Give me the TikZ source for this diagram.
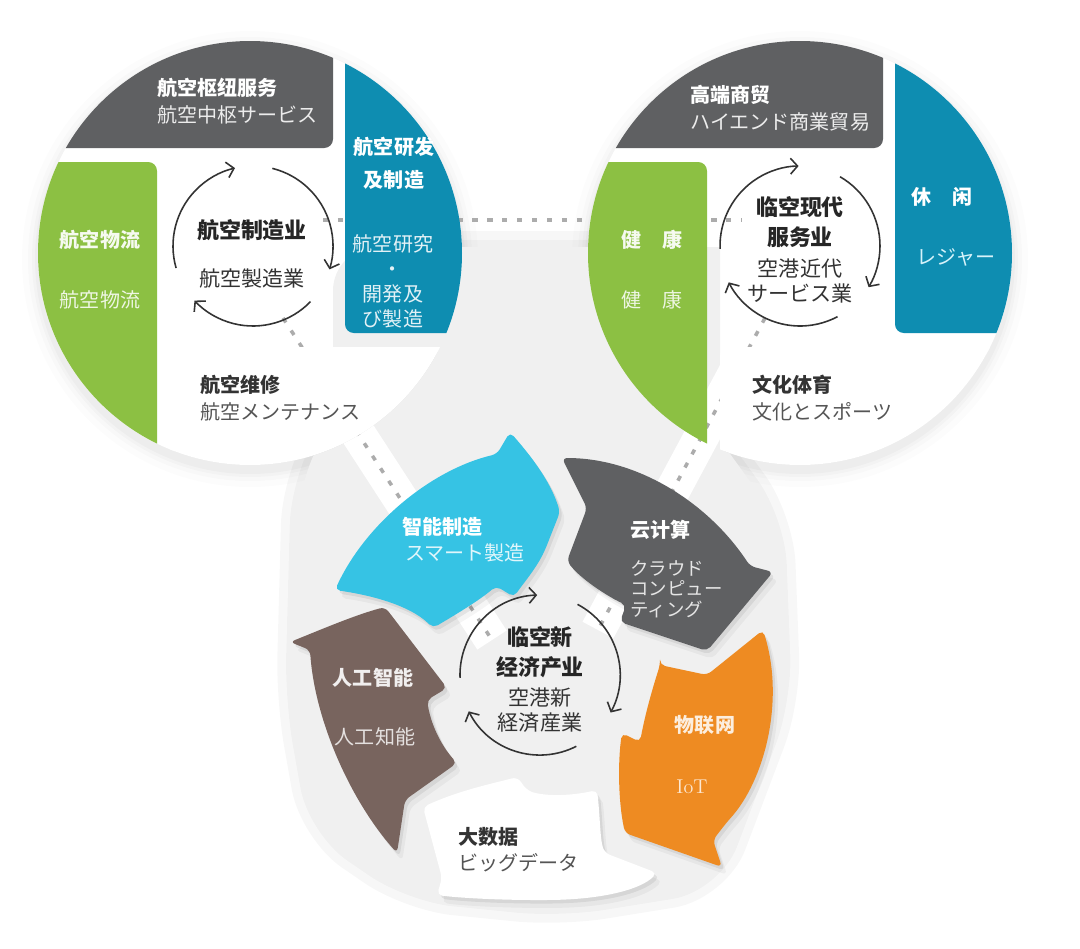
\documentclass[tikz,border=0pt]{standalone}
\usepackage{fontspec}
\usepackage{xcolor}
\usepackage{tikz}
\newfontfamily\zhfont{Noto Sans CJK SC}
\newfontfamily\jafont{Noto Sans CJK JP}
\usetikzlibrary{arrows.meta, positioning}

\definecolor{hubgrey}{HTML}{5F6062}
\definecolor{rdblue}{HTML}{0E8DB1}
\definecolor{leafgreen}{HTML}{8CC043}
\definecolor{skycyan}{HTML}{36C3E4}
\definecolor{iotorange}{HTML}{EE8B22}
\definecolor{aibrown}{HTML}{78645E}
\definecolor{haze}{HTML}{F0F0F0}
\definecolor{darktext}{HTML}{333333}
\definecolor{softtext}{HTML}{555555}

\begin{document}
\begin{tikzpicture}[x=0.02cm, y=-0.02cm]
\tikzstyle{segtitle} = [font=\zhfont\bfseries\fontsize{11.4}{14}\selectfont, inner sep=0pt]
\tikzstyle{segsub} = [font=\jafont\fontsize{11.4}{14.2}\selectfont, inner sep=0pt, align=center]
\tikzstyle{hubtext} = [font=\zhfont\bfseries\fontsize{12.5}{17}\selectfont, text=black!85, inner sep=0pt, align=center]
\tikzstyle{hubsub} = [font=\jafont\fontsize{12}{14.2}\selectfont, text=black!80, inner sep=0pt, align=center]
\tikzstyle{turn} = [draw=black!80, line width=0.9pt, -{Straight Barb[length=4pt,width=9pt]}]
\tikzstyle{dots} = [draw=gray!65, line width=2pt, dash pattern=on 3pt off 5.5pt]
\tikzstyle{strip} = [draw=white, line width=0.7cm]
\tikzstyle{lift} = [preaction={fill=black, opacity=.07, transform canvas={xshift=1.5pt, yshift=-2pt}}, preaction={fill=black, opacity=.04, transform canvas={xshift=3pt, yshift=-4.5pt}}]

\useasboundingbox (0,0) rectangle (1080,948);

% grey haze behind the middle, soft rim first
\tikzset{hazepath/.style={insert path={(333,247) -- (720,247) -- (720,440) [rounded corners=25pt] -- (778,520) -- (785,700) -- (715,885) -- (560,910) -- (410,895) -- (315,830) -- (292,700) -- (298,480) -- (333,420) -- cycle}}}
\draw[haze, opacity=.5, line width=18pt, hazepath];
\draw[haze, line width=8pt, hazepath];

% soft shadows and discs of the two circles
\foreach \cx in {250,800} {
  \foreach \r/\o in {228/.01, 222/.015, 218/.02, 215/.025}
    \fill[black, opacity=\o] (\cx,259) circle (\r);
  \fill[white] (\cx,253) circle (212);
}
\fill[haze, hazepath];

\coordinate (lfoot) at (283,318);
\coordinate (lring) at (492,640);
\coordinate (rfoot) at (765,318);
\coordinate (rring) at (598,630);
\coordinate (hleft) at (323,220);
\coordinate (hright) at (742,220);
\draw[strip] (lfoot) -- (lring);
\draw[strip] (rfoot) -- (rring);
\draw[dots] (lfoot) -- (lring);
\draw[dots] (rfoot) -- (rring);
\draw[dots] (hleft) -- (hright);

% left circle
\begin{scope}
\clip (250,253) circle (212);
\fill[hubgrey, rounded corners=5pt] (0,0) rectangle (333,148);
\fill[rdblue, rounded corners=5pt] (345,0) rectangle (500,333);
\fill[leafgreen, rounded corners=5pt] (0,162) rectangle (157,500);
\fill[white, lift, rounded corners=5pt] (170,347) rectangle (500,500);
\end{scope}

% right circle
\begin{scope}
\clip (800,253) circle (212);
\fill[hubgrey, rounded corners=5pt] (550,0) rectangle (883,148);
\fill[rdblue, rounded corners=5pt] (895,0) rectangle (1050,333);
\fill[leafgreen, rounded corners=5pt] (550,162) rectangle (707,500);
\fill[white, lift, rounded corners=5pt] (720,347) rectangle (1050,500);
\end{scope}

% ring of five arrows
\fill[skycyan, lift, rounded corners=3pt] (510,432) .. controls (530,455) and (550,480) .. (560,512) -- (545,550) .. controls (535,570) and (522,585) .. (514,597) -- (496,586) .. controls (480,600) and (455,615) .. (433,628) .. controls (410,605) and (370,595) .. (335,590) .. controls (365,525) and (430,470) .. (497,454) -- cycle;
\fill[hubgrey, lift, rounded corners=3pt] (562,458) .. controls (640,458) and (710,505) .. (750,566) -- (773,572) -- (707,651) -- (620,622) -- (626,605) .. controls (605,595) and (580,578) .. (567,561) -- (587,508) -- cycle;
\fill[iotorange, lift, rounded corners=3pt] (660,665) -- (707,675) -- (763,630) .. controls (785,700) and (765,780) .. (727,822) -- (713,840) -- (722,867) -- (625,833) .. controls (618,800) and (618,760) .. (622,733) -- (640,742) .. controls (645,715) and (652,690) .. (660,665) -- cycle;
\fill[white, lift, rounded corners=3pt] (423,807) .. controls (460,790) and (495,783) .. (517,777) -- (528,791) .. controls (550,797) and (575,795) .. (597,790) .. controls (600,815) and (600,840) .. (605,853) -- (657,873) .. controls (640,890) and (600,900) .. (540,900) .. controls (500,900) and (460,898) .. (437,895) -- (442,878) -- cycle;
\fill[aibrown, lift, rounded corners=3pt] (290,642) .. controls (320,630) and (355,615) .. (385,607) -- (447,688) -- (427,700) .. controls (432,730) and (445,750) .. (457,763) -- (405,800) -- (397,853) .. controls (350,800) and (315,720) .. (310,650) -- cycle;

% the three turning cycles
\coordinate (mfg) at (253,246);
\coordinate (svc) at (800,246);
\coordinate (neo) at (540,675);
\foreach \a in {164,284,404} \draw[turn] (mfg) ++(\a:80) arc (\a:\a+93:80);
\foreach \a in {178,300,422} \draw[turn] (svc) ++(\a:80) arc (\a:\a+91:80);
\foreach \a in {178,298,423} \draw[turn] (neo) ++(\a:80) arc (\a:\a+90:80);

% left circle texts
\node[segtitle, anchor=west, text=white] (hubzh) at (157,88) {航空枢纽服务};
\node[segsub, anchor=west, text=gray!15] (hubja) at (157,115) {航空中枢サービス};
\node[segtitle, text=white] (rdzha) at (394,147) {航空研发};
\node[segtitle, text=white] (rdzhb) at (394,180) {及制造};
\node[segsub, text=white!88!rdblue] (rdja) at (393,281) {航空研究\\・\\開発及\\び製造};
\node[segtitle, text=white!92!leafgreen] (logzh) at (100,240) {航空物流};
\node[segsub, text=white!85!leafgreen] (logja) at (100,300) {航空物流};
\node[hubtext] (mfgzh) at (252,230) {航空制造业};
\node[hubsub] (mfgja) at (252,278) {航空製造業};
\node[segtitle, anchor=west, text=darktext] (mrozh) at (200,385) {航空维修};
\node[segsub, anchor=west, text=softtext] (mroja) at (200,412) {航空メンテナンス};

% right circle texts
\node[segtitle, anchor=west, text=white] (tradezh) at (690,95) {高端商贸};
\node[segsub, anchor=west, text=gray!15] (tradeja) at (690,122) {ハイエンド商業貿易};
\node[segtitle, text=white] (leisurezh) at (942,197) {休\quad 闲};
\node[segsub, text=white!80!skycyan] (leisureja) at (956,257) {レジャー};
\node[segtitle, text=white!92!leafgreen] (healthzh) at (652,240) {健\quad 康};
\node[segsub, text=white!85!leafgreen] (healthja) at (652,300) {健\quad 康};
\node[hubtext] (svczh) at (800,222) {临空现代\\服务业};
\node[hubsub] (svcja) at (800,281) {空港近代\\サービス業};
\node[segtitle, anchor=west, text=darktext] (culturezh) at (752,385) {文化体育};
\node[segsub, anchor=west, text=softtext] (cultureja) at (752,412) {文化とスポーツ};

% ring texts
\node[segtitle, anchor=west, text=white] (smartzh) at (402,527) {智能制造};
\node[segsub, anchor=west, text=white!85!skycyan] (smartja) at (405,553) {スマート製造};
\node[segtitle, anchor=west, text=white] (cloudzh) at (630,530) {云计算};
\node[segsub, anchor=west, align=left, text=gray!20, font=\jafont\fontsize{10.5}{11.6}\selectfont] (cloudja) at (630,589) {クラウド\\コンピュー\\ティング};
\node[segtitle, text=white!85!iotorange] (iotzh) at (705,725) {物联网};
\node[inner sep=0pt, text=white!80!iotorange, font=\fontsize{11.4}{14}\selectfont] (iotja) at (692,787) {IoT};
\node[segtitle, anchor=west, text=darktext] (datazh) at (458,837) {大数据};
\node[segsub, anchor=west, text=softtext] (dataja) at (458,863) {ビッグデータ};
\node[segtitle, text=white!90!aibrown] (aizh) at (373,678) {人工智能};
\node[segsub, text=white!80!aibrown] (aija) at (375,737) {人工知能};
\node[hubtext] (neozh) at (540,652) {临空新\\经济产业};
\node[hubsub] (neoja) at (540,710) {空港新\\経済産業};
\end{tikzpicture}
\end{document}
